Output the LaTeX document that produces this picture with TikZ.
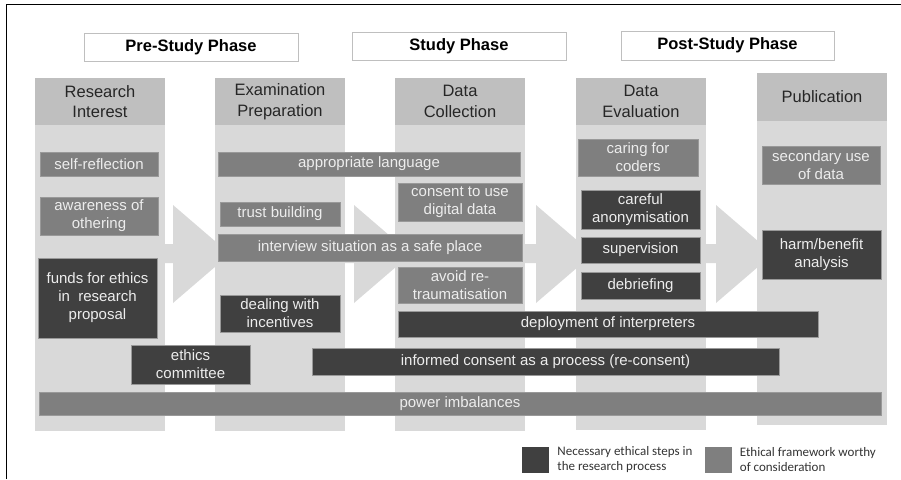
\documentclass[tikz,border=0pt]{standalone}
\usepackage{fontspec}
\setmainfont{Liberation Sans}
\newfontfamily\legendfont{Carlito}
\usetikzlibrary{positioning}
\definecolor{darkstep}{HTML}{404040}
\definecolor{midstep}{HTML}{7F7F7F}
\definecolor{colbody}{HTML}{D9D9D9}
\definecolor{colhead}{HTML}{BFBFBF}
\definecolor{boxtext}{HTML}{EDEDED}

\begin{document}
\begin{tikzpicture}[x=1pt,y=-1pt,
  needed/.style={rectangle,fill=darkstep,draw=white!60!black,line width=.6pt,text=boxtext,
    font=\fontsize{15}{18}\selectfont,align=center,inner sep=0pt},
  worthy/.style={needed,fill=midstep},
  phase/.style={rectangle,draw=colhead,line width=.8pt,fill=white,
    font=\bfseries\fontsize{16.5}{20}\selectfont,inner sep=0pt},
  head/.style={rectangle,fill=colhead,text=black!85,font=\fontsize{16.5}{20.5}\selectfont,
    align=center,inner sep=0pt,minimum width=130pt},
  keybox/.style={rectangle,inner sep=0pt,minimum width=27pt,minimum height=26pt},
  keytext/.style={inner sep=0pt,align=left,text=black!80,font=\legendfont\fontsize{13}{15}\selectfont}]
\useasboundingbox (0,0) rectangle (901,479);
\draw[line width=1pt] (6,479)--(6,4)--(901,4);

% phases
\node[phase,minimum width=214pt,minimum height=28pt] (pre) at (191,47) {Pre-Study Phase};
\node[phase,minimum width=214pt,minimum height=28pt] (study) at (459,46) {Study Phase};
\node[phase,minimum width=213pt,minimum height=29pt] (post) at (727.5,45.5) {Post-Study Phase};

% columns
\foreach \x/\t/\b in {35/78/431,215/78/431,395/78/431,576/78/430,757/73/425}{
\fill[colbody] (\x,\t) rectangle (\x+130,\b);
}
\node[head,minimum height=47pt] (resint) at (100,101.5) {Research\\Interest};
\node[head,minimum height=47pt] (exprep) at (280,101.5) {Examination\\Preparation};
\node[head,minimum height=47pt] (datcol) at (460,101.5) {Data\\Collection};
\node[head,minimum height=47pt] (dateval) at (641,101.5) {Data\\Evaluation};
\node[head,minimum height=48pt] (publ) at (822,97) {Publication};

% arrows
\foreach \x in {173,354,536,716}{
\fill[colbody] (\x-30,244)--(\x,244)--(\x,205)--(\x+57,254)--(\x,303)--(\x,263)--(\x-30,263)--cycle;
}

% research interest
\node[worthy,minimum width=118pt,minimum height=24pt] (selfref) at (99,164) {self-reflection};
\node[worthy,minimum width=118pt,minimum height=38pt] (othering) at (99,216) {awareness of\\othering};
\node[needed,minimum width=119pt,minimum height=80pt] (funds) at (97.5,298) {funds for ethics\\in\ \ research\\proposal};
\node[needed,minimum width=119pt,minimum height=39pt] (ethcom) at (190.5,364.5) {ethics\\committee};
\node[worthy,minimum width=842pt,minimum height=23pt] (power) at (460,403.5) {power imbalances};

% examination preparation
\node[worthy,minimum width=302pt,minimum height=24pt] (applang) at (369,164) {appropriate language};
\node[worthy,minimum width=120pt,minimum height=24pt] (trust) at (280,214) {trust building};
\node[worthy,minimum width=304pt,minimum height=27pt] (safe) at (370,247.5) {interview situation as a safe place};
\node[needed,minimum width=120pt,minimum height=37pt] (incent) at (280,313.5) {dealing with\\incentives};

% data collection
\node[worthy,minimum width=124pt,minimum height=38pt] (digital) at (460,202) {consent to use\\digital data};
\node[worthy,minimum width=124pt,minimum height=36pt] (retrauma) at (460,285) {avoid re-\\traumatisation};
\node[needed,minimum width=420pt,minimum height=26pt] (interp) at (608,324) {deployment of interpreters};
\node[needed,minimum width=467pt,minimum height=27pt] (reconsent) at (545.5,361.5) {informed consent as a process (re-consent)};

% data evaluation
\node[worthy,minimum width=120pt,minimum height=37pt] (coders) at (638,157.5) {caring for\\coders};
\node[needed,minimum width=119pt,minimum height=39pt] (anonym) at (640.5,209.5) {careful\\anonymisation};
\node[needed,minimum width=119pt,minimum height=26pt] (superv) at (640.5,250) {supervision};
\node[needed,minimum width=119pt,minimum height=27pt] (debrief) at (640.5,285.5) {debriefing};

% publication
\node[worthy,minimum width=118pt,minimum height=38pt] (secuse) at (821,165) {secondary use\\of data};
\node[needed,minimum width=119pt,minimum height=49pt] (harm) at (821.5,254.5) {harm/benefit\\analysis};

% legend
\node[keybox,fill=darkstep] (keyneed) at (535.5,460) {};
\node[keytext,anchor=west,right=8pt of keyneed] (keyneedtxt) {Necessary ethical steps in\\the research process};
\node[keybox,fill=midstep] (keyworthy) at (718,460) {};
\node[keytext,anchor=west,right=8pt of keyworthy] (keyworthytxt) {Ethical framework worthy\\of consideration};
\end{tikzpicture}
\end{document}
